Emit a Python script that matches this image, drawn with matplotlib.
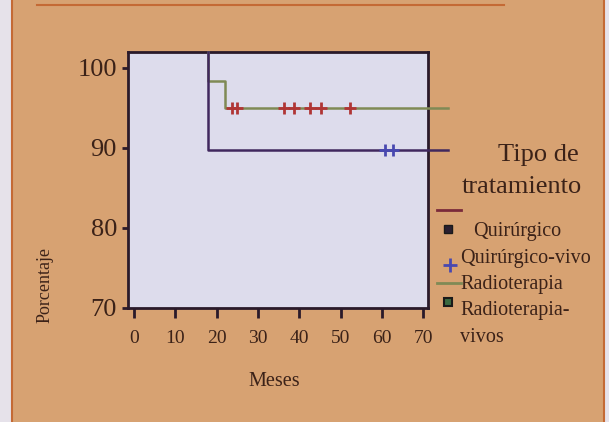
import matplotlib.pyplot as plt
from matplotlib.lines import Line2D

plt.rcParams['font.family'] = ['Liberation Serif', 'DejaVu Serif']

# datos
meses_ticks = [0, 10, 20, 30, 40, 50, 60, 70]
porc_ticks = [70, 80, 90, 100]

# curvas escalonadas (tiempo, porcentaje)
quir_t = [18, 18, 76]
quir_y = [102, 89.7, 89.7]
radio_t = [18, 18, 22, 22, 76]
radio_y = [102, 98.4, 98.4, 95, 95]

# censuras
radio_vivos_t = [23.6, 24.9, 36.2, 38.7, 42.6, 45.2, 52.3]
radio_vivos_y = [95] * len(radio_vivos_t)
quir_vivos_t = [60.8, 62.8]
quir_vivos_y = [89.7] * len(quir_vivos_t)

fondo = '#d7a272'
texto = '#3b2218'
c_quir = '#40285e'
c_quir_ley = '#7a2a3a'
c_radio = '#7f8a55'
c_rojo = '#b03535'
c_azul = '#4848b0'
borde = '#c46a35'

fig = plt.figure(figsize=(6.09, 4.22), dpi=100, facecolor=fondo)

# marco de la pagina
fig.patches.append(plt.Rectangle((0, 0), 12/609, 1, transform=fig.transFigure,
                                 facecolor='#e6e2ea', edgecolor='none', zorder=0))
fig.patches.append(plt.Rectangle((605/609, 0), 4/609, 1, transform=fig.transFigure,
                                 facecolor='#e6e2ea', edgecolor='none', zorder=0))
fig.add_artist(Line2D([12/609, 12/609], [0, 1], color=borde, lw=1.5))
fig.add_artist(Line2D([604/609, 604/609], [0, 1], color=borde, lw=1.5))
fig.add_artist(Line2D([37/609, 504/609], [1 - 5/422, 1 - 5/422], color=borde, lw=1.5))

ax = fig.add_axes([128/609, 1 - 308/422, 300/609, 256/422])
ax.set_facecolor('#dddcec')

ax.plot(radio_t, radio_y, color=c_radio, lw=1.8, clip_on=False, zorder=3)
ax.plot(quir_t, quir_y, color=c_quir, lw=1.8, clip_on=False, zorder=3)
ax.plot(radio_vivos_t, radio_vivos_y, ls='none', marker='+', ms=9, mew=2,
        color=c_rojo, zorder=4)
ax.plot(quir_vivos_t, quir_vivos_y, ls='none', marker='+', ms=9, mew=2,
        color=c_azul, zorder=4)

ax.set_xlim(-1.5, 71.2)
ax.set_ylim(70, 102)
ax.set_xticks(meses_ticks)
ax.set_yticks(porc_ticks)
ax.tick_params(axis='x', length=7, width=2, pad=9, labelsize=14, colors='#2a1a2a',
               labelcolor=texto)
ax.tick_params(axis='y', length=4, width=2, pad=4, labelsize=19, colors='#2a1a2a',
               labelcolor=texto)
for s in ax.spines.values():
    s.set_linewidth(2)
    s.set_color('#2a1a2a')

fig.text(248/609, 1 - 382/422, 'Meses', fontsize=14.5, color=texto, ha='left', va='center')
fig.text(45/609, 1 - 285/422, 'Porcentaje', fontsize=13, color=texto, rotation=90,
         ha='center', va='center')

# leyenda
fig.text(538/609, 1 - 155/422, 'Tipo de', fontsize=19, color=texto, ha='center', va='center')
fig.text(522/609, 1 - 187/422, 'tratamiento', fontsize=19, color=texto, ha='center', va='center')

fs = 14.5
fig.add_artist(Line2D([437/609, 461/609], [1 - 210/422] * 2, color=c_quir_ley, lw=2))
fig.add_artist(Line2D([448/609], [1 - 229/422], marker='s', ms=6, color='#2a1f30',
                      mec='#1a1a1a'))
fig.text(473/609, 1 - 231/422, 'Quirúrgico', fontsize=fs, color=texto, va='center')
fig.add_artist(Line2D([450/609], [1 - 265/422], marker='+', ms=10, mew=2, color=c_azul))
fig.text(460/609, 1 - 259/422, 'Quirúrgico-vivo', fontsize=fs, color=texto, va='center')
fig.add_artist(Line2D([437/609, 461/609], [1 - 283/422] * 2, color=c_radio, lw=2))
fig.add_artist(Line2D([448/609], [1 - 302/422], marker='s', ms=6, color='#3a6a40',
                      mec='#1a1a1a', mew=1.5))
fig.text(460/609, 1 - 285/422, 'Radioterapia', fontsize=fs, color=texto, va='center')
fig.text(460/609, 1 - 311/422, 'Radioterapia-', fontsize=fs, color=texto, va='center')
fig.text(460/609, 1 - 337/422, 'vivos', fontsize=fs, color=texto, va='center')

fig.savefig('out.png', dpi=100, facecolor=fondo)
